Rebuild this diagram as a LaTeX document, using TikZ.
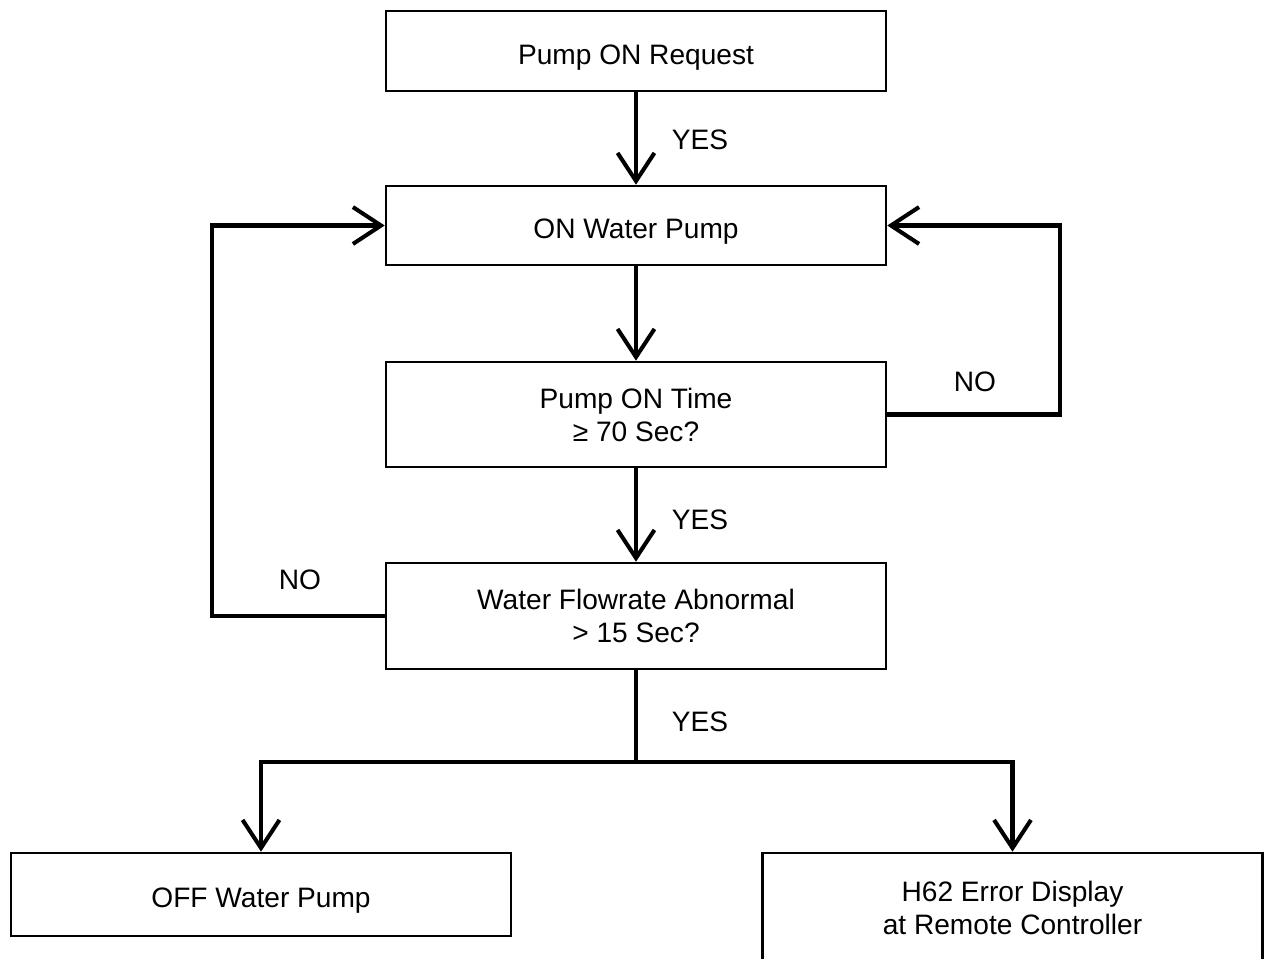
\documentclass[tikz,border=0pt]{standalone}
\usepackage{fontspec}
\setmainfont{Liberation Sans}
\usetikzlibrary{arrows.meta}
\tikzset{
  stepbox/.style={draw, line width=1.5pt, minimum width=10cm, align=center, inner sep=0pt, text depth=0pt},
  oneline/.style={text height=15pt},
  flow/.style={line width=2.3pt, -{Straight Barb[length=16pt, width=21pt, line width=2.3pt]}},
  flowline/.style={line width=2.3pt},
  lbl/.style={font=\fontsize{16}{19}\selectfont}
}
\begin{document}
\begin{tikzpicture}[x=0.02cm, y=-0.02cm, font=\fontsize{16}{19}\selectfont]
    \useasboundingbox (0,0) rectangle (1264,958);

    % Boxes
    \node[stepbox, oneline, minimum height=1.6cm] (req) at (636,51) {Pump ON Request};
    \node[stepbox, oneline, minimum height=1.58cm] (pumpon) at (636,225.5) {ON Water Pump};
    \node[stepbox, minimum height=2.1cm] (ontime) at (636,414.5) {Pump ON Time\\≥ 70 Sec?};
    \node[stepbox, minimum height=2.12cm] (flowrate) at (636,616) {Water Flowrate Abnormal\\> 15 Sec?};
    \node[stepbox, oneline, minimum height=1.66cm] (pumpoff) at (261,894.5) {OFF Water Pump};
    \node[stepbox, minimum height=2.2cm] (errdisp) at (1012.5,908) {H62 Error Display\\at Remote Controller};

    % Turning points
    \coordinate (loopL) at (212,616);
    \coordinate (loopR) at (1060,414.5);
    \coordinate (split) at (636,762);

    % Arrows
    \draw[flow] (req) -- (pumpon);
    \draw[flow] (pumpon) -- (ontime);
    \draw[flow] (ontime) -- (flowrate);
    \draw[flow] (flowrate.west) -- (loopL) |- (pumpon.west);
    \draw[flow] (ontime.east) -- (loopR) |- (pumpon.east);
    \draw[flowline] (flowrate.south) -- (split);
    \draw[flow] (split) -| (pumpoff.north);
    \draw[flow] (split) -| (errdisp.north);

    % Labels
    \node[lbl] (yes1) at (700,140) {YES};
    \node[lbl] (yes2) at (700,520) {YES};
    \node[lbl] (yes3) at (700,722) {YES};
    \node[lbl] (no1) at (975,382) {NO};
    \node[lbl] (no2) at (300,580) {NO};
\end{tikzpicture}
\end{document}
